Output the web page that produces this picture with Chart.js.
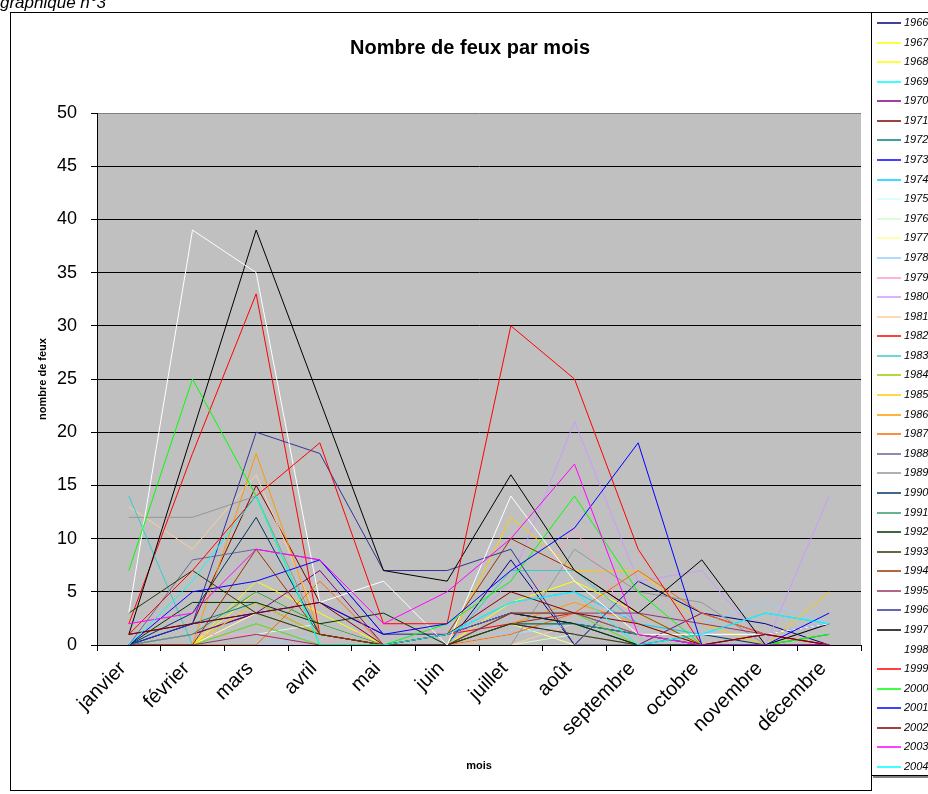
<!DOCTYPE html>
<html>
<head>
<meta charset="utf-8">
<title>Nombre de feux par mois</title>
<script src="https://cdn.jsdelivr.net/npm/chart.js@4/dist/chart.umd.min.js"></script>
<style>
  html, body { margin: 0; padding: 0; background: #fff; overflow: hidden; }
  #wrap { position: relative; width: 928px; height: 794px; overflow: hidden; }
  #c { position: absolute; left: 0; top: 0; }
  #legend {
    position: absolute; left: 871px; top: 12px; width: 80px; height: 762px;
    border: 1px solid #000; background: #fff; box-shadow: 2px 2px 0 #808080;
  }
  .item { position: absolute; left: 0; width: 80px; height: 14px; }
  .item .sw { position: absolute; left: 5px; top: 6px; width: 24px; height: 2px; opacity: 0.75; }
  .item .tx {
    position: absolute; left: 32px; top: 0; line-height: 14px;
    font: italic 11px "Liberation Sans", Arial, sans-serif; color: #000;
  }
</style>
</head>
<body>
<div id="wrap">
  <canvas id="c" width="928" height="794"></canvas>
  <div id="legend"></div>
</div>
<script>
// Months on the category axis
const months = ['janvier', 'février', 'mars', 'avril', 'mai', 'juin', 'juillet',
                'août', 'septembre', 'octobre', 'novembre', 'décembre'];

// Years shown in the legend
const years = ['1966','1967','1968','1969','1970','1971','1972','1973','1974','1975',
               '1976','1977','1978','1979','1980','1981','1982','1983','1984','1985',
               '1986','1987','1988','1989','1990','1991','1992','1993','1994','1995',
               '1996','1997','1998','1999','2000','2001','2002','2003','2004'];

// Number of fires per month, one array per year
const f1966 = [0, 1, 3, 1, 0, 0, 8, 0, 6, 3, 2, 0];
const f1967 = [0, 0, 6, 3, 0, 0, 4, 6, 3, 0, 0, 0];
const f1968 = [0, 0, 5, 2, 0, 0, 3, 3, 1, 0, 0, 0];
const f1969 = [0, 0, 2, 0, 0, 0, 2, 3, 0, 0, 0, 0];
const f1970 = [0, 1, 3, 7, 0, 0, 2, 1, 0, 3, 1, 0];
const f1971 = [1, 2, 15, 4, 1, 1, 3, 2, 0, 0, 0, 0];
const f1972 = [0, 2, 4, 1, 0, 0, 2, 2, 1, 0, 0, 1];
const f1973 = [0, 2, 3, 4, 1, 1, 3, 2, 1, 0, 1, 2];
const f1974 = [0, 0, 2, 0, 0, 1, 4, 5, 2, 1, 3, 2];
const f1975 = [0, 1, 1, 2, 0, 0, 1, 2, 0, 1, 1, 0];
const f1976 = [0, 0, 2, 0, 0, 0, 0, 1, 0, 0, 0, 0];
const f1977 = [0, 0, 3, 1, 0, 0, 2, 0, 0, 0, 0, 0];
const f1978 = [0, 0, 0, 1, 0, 2, 1, 2, 3, 2, 4, 2];
const f1979 = [0, 1, 1, 0, 2, 1, 2, 11, 1, 0, 0, 0];
const f1980 = [0, 0, 0, 0, 0, 0, 6, 21, 6, 7, 0, 14];
const f1981 = [13, 9, 16, 2, 0, 0, 0, 2, 0, 0, 0, 1];
const f1982 = [2, 18, 33, 1, 0, 1, 2, 3, 1, 0, 0, 0];
const f1983 = [14, 0, 2, 0, 0, 0, 7, 7, 2, 0, 1, 0];
const f1984 = [0, 0, 2, 0, 0, 0, 3, 3, 0, 0, 0, 0];
const f1985 = [0, 0, 4, 1, 0, 0, 12, 7, 7, 2, 0, 5];
const f1986 = [0, 0, 18, 1, 0, 0, 2, 4, 2, 0, 0, 0];
const f1987 = [0, 0, 0, 6, 0, 0, 1, 3, 7, 3, 1, 0];
const f1988 = [0, 8, 9, 8, 1, 1, 3, 3, 1, 0, 0, 0];
const f1989 = [12, 12, 14, 1, 0, 0, 0, 9, 5, 4, 0, 2];
const f1990 = [0, 3, 12, 1, 0, 0, 2, 2, 0, 1, 0, 0];
const f1991 = [0, 1, 5, 2, 0, 0, 2, 2, 1, 0, 0, 1];
const f1992 = [0, 4, 4, 2, 3, 0, 3, 2, 0, 0, 0, 0];
const f1993 = [3, 7, 3, 1, 0, 0, 2, 1, 0, 0, 0, 0];
const f1994 = [0, 0, 9, 1, 0, 1, 10, 7, 3, 0, 0, 0];
const f1995 = [0, 0, 1, 0, 0, 0, 3, 3, 3, 2, 1, 0];
const f1996 = [0, 2, 20, 18, 7, 7, 9, 0, 0, 0, 0, 0];
const f1997 = [1, 20, 39, 23, 7, 6, 16, 7, 3, 8, 0, 2];
const f1998 = [3, 39, 35, 4, 6, 0, 14, 6, 1, 1, 1, 2];
const f1999 = [1, 7, 14, 19, 2, 2, 30, 25, 9, 0, 1, 0];
const f2000 = [7, 25, 14, 0, 0, 2, 6, 14, 5, 0, 0, 1];
const f2001 = [0, 5, 6, 8, 1, 2, 7, 11, 19, 0, 0, 3];
const f2002 = [1, 2, 3, 4, 0, 1, 5, 3, 2, 0, 1, 0];
const f2003 = [2, 3, 9, 8, 2, 5, 10, 17, 1, 0, 0, 0];
const f2004 = [0, 6, 14, 0, 0, 1, 4, 5, 0, 1, 3, 2];

const series = [f1966, f1967, f1968, f1969, f1970, f1971, f1972, f1973, f1974, f1975,
                f1976, f1977, f1978, f1979, f1980, f1981, f1982, f1983, f1984, f1985,
                f1986, f1987, f1988, f1989, f1990, f1991, f1992, f1993, f1994, f1995,
                f1996, f1997, f1998, f1999, f2000, f2001, f2002, f2003, f2004];

// Y axis ticks
const yTicks = [0, 5, 10, 15, 20, 25, 30, 35, 40, 45, 50];

// Line colours, one per year
const lineColors = ['#000080','#FFFF00','#FFFF00','#00FFFF','#800080','#800000','#008080','#0000FF',
                    '#00CCFF','#CCFFFF','#CCFFCC','#FFFF99','#99CCFF','#FF99CC','#CC99FF','#FFCC99',
                    '#FF0000','#33CCCC','#99CC00','#FFCC00','#FF9900','#FF6600','#666699','#969696',
                    '#003366','#339966','#003300','#333300','#993300','#993366','#333399','#000000',
                    '#FFFFFF','#FF0000','#00FF00','#0000FF','#800000','#FF00FF','#00FFFF'];

const FONT = '"Liberation Sans", Arial, sans-serif';

// Legend built beside the chart
const legend = document.getElementById('legend');
years.forEach((yr, i) => {
  const it = document.createElement('div');
  it.className = 'item';
  it.style.top = (3 + 19.58 * i) + 'px';
  const sw = document.createElement('div');
  sw.className = 'sw';
  sw.style.background = lineColors[i];
  const tx = document.createElement('div');
  tx.className = 'tx';
  tx.textContent = yr;
  it.appendChild(sw);
  it.appendChild(tx);
  legend.appendChild(it);
});

// Frame, plot background, heading texts
const decor = {
  id: 'decor',
  beforeDraw(chart) {
    const { ctx, chartArea: a } = chart;
    ctx.save();
    ctx.fillStyle = '#fff';
    ctx.fillRect(0, 0, chart.width, chart.height);
    ctx.strokeStyle = '#000';
    ctx.lineWidth = 1;
    ctx.strokeRect(10.5, 12.5, 861, 778);
    ctx.fillStyle = '#C0C0C0';
    ctx.fillRect(a.left, a.top, a.right - a.left, a.bottom - a.top);
    ctx.restore();
  },
  afterDraw(chart) {
    const { ctx } = chart;
    ctx.save();
    ctx.fillStyle = '#000';
    ctx.textAlign = 'center';
    ctx.textBaseline = 'middle';
    ctx.font = 'bold 20px ' + FONT;
    ctx.fillText('Nombre de feux par mois', 470, 48);
    ctx.textAlign = 'left';
    ctx.textBaseline = 'alphabetic';
    ctx.font = 'italic 17px ' + FONT;
    ctx.fillText('graphique n°3', 0, 8);
    ctx.restore();
  }
};

new Chart(document.getElementById('c'), {
  type: 'line',
  data: {
    labels: months,
    datasets: series.map((vals, i) => ({
      label: years[i],
      data: vals,
      borderColor: lineColors[i],
      backgroundColor: lineColors[i],
      borderWidth: 1,
      pointRadius: 0,
      tension: 0,
      fill: false,
      order: -i
    }))
  },
  options: {
    responsive: false,
    devicePixelRatio: 1,
    animation: false,
    layout: { padding: { left: 10, right: 67, top: 113, bottom: 0 } },
    plugins: { legend: { display: false }, tooltip: { enabled: false }, title: { display: false } },
    scales: {
      x: {
        type: 'category',
        offset: true,
        grid: { offset: true, drawOnChartArea: false, drawTicks: true, tickLength: 6, color: '#000', tickColor: '#000' },
        border: { color: '#000', width: 1 },
        ticks: {
          autoSkip: false, minRotation: 45, maxRotation: 45, labelOffset: -6, padding: 6,
          color: '#000', font: { family: FONT, size: 20 }
        },
        title: { display: true, text: 'mois', color: '#000', font: { family: FONT, size: 11, weight: 'bold' }, padding: { top: 0, bottom: 21 } },
        afterFit(s) { s.height = 149; }
      },
      y: {
        min: 0, max: 50,
        afterBuildTicks(s) { s.ticks = yTicks.map(v => ({ value: v })); },
        grid: {
          color: (c) => (c.tick && c.tick.value === 50 ? '#808080' : '#000'),
          tickColor: '#000', tickLength: 6, lineWidth: 1
        },
        border: { color: '#000', width: 1 },
        ticks: { color: '#000', padding: 14, font: { family: FONT, size: 18 } },
        title: { display: true, text: 'nombre de feux', color: '#000', font: { family: FONT, size: 11, weight: 'bold' }, padding: { top: 26, bottom: 0 } },
        afterFit(s) { s.width = 87; }
      }
    }
  },
  plugins: [decor]
});
</script>
</body>
</html>
